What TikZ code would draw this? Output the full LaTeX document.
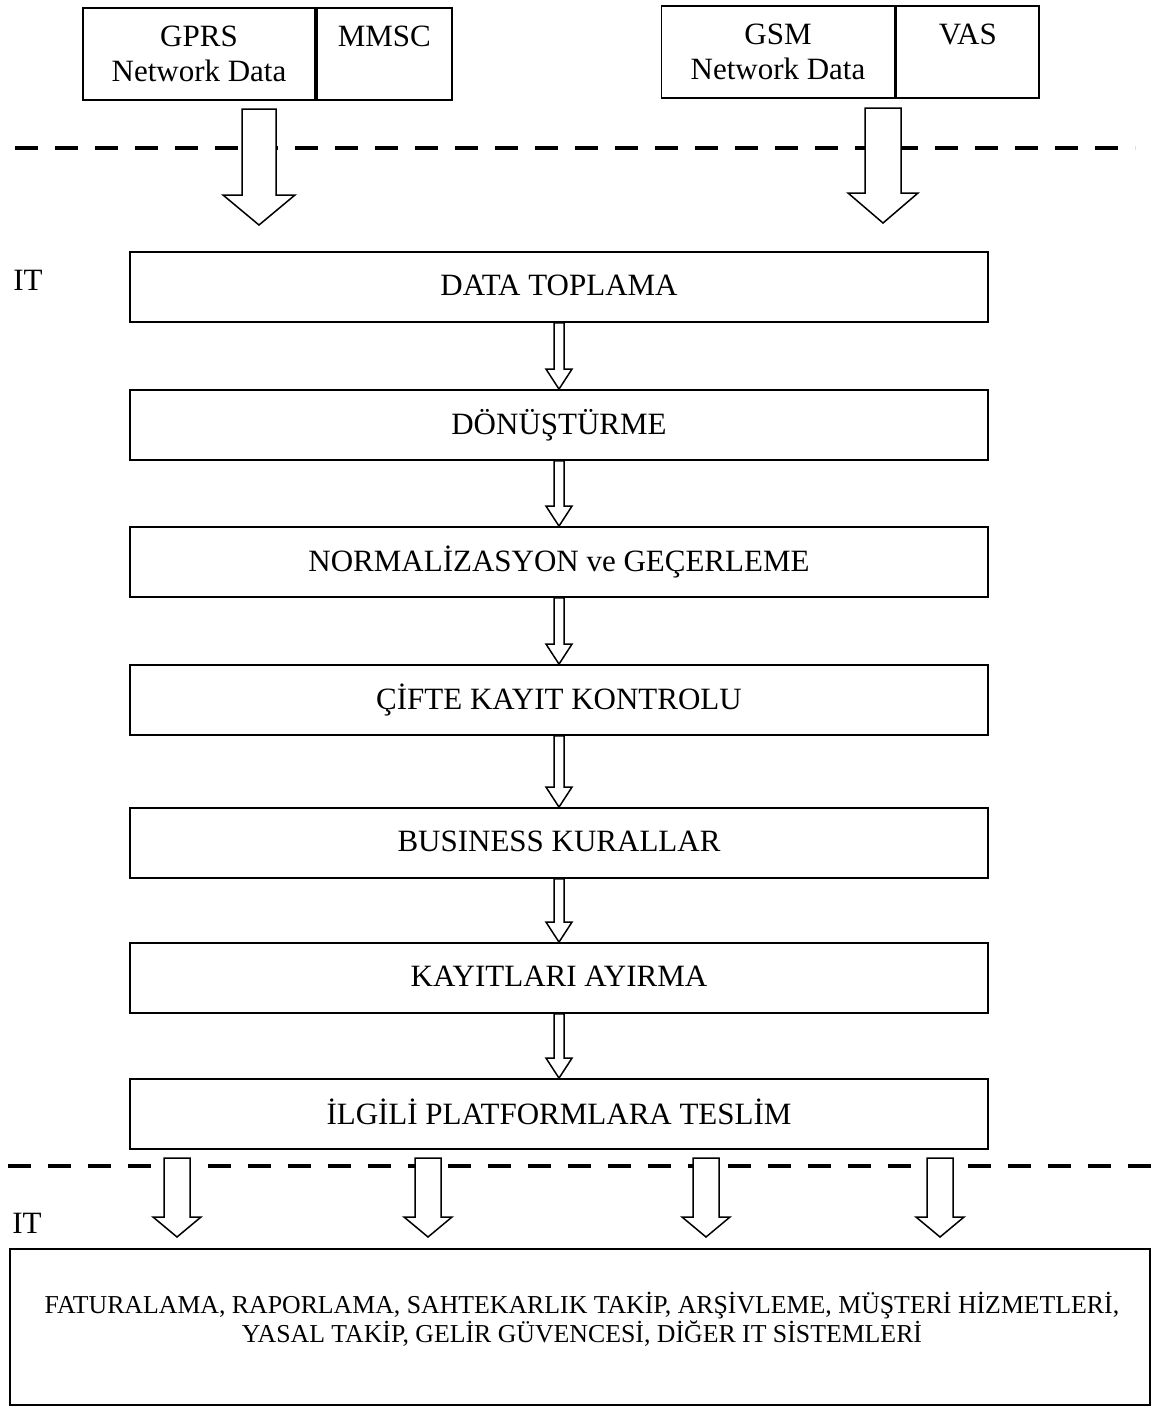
\documentclass[tikz,border=0pt]{standalone}
\usepackage{fontspec}
\setmainfont{Liberation Serif}
\usetikzlibrary{calc,positioning}

\tikzset{
    stage/.style={draw, line width=0.9pt, minimum width=429pt, minimum height=35pt,
        inner sep=0pt, font=\fontsize{15.5}{17.5}\selectfont},
    source/.style={draw, line width=0.9pt, minimum height=46pt, inner sep=0pt,
        align=center, font=\fontsize{15.5}{17.5}\selectfont},
    tag/.style={font=\fontsize{15.5}{17.5}\selectfont},
    hollow/.style={draw, line width=0.75pt, fill=white, line join=miter},
    border/.style={line width=2pt, dash pattern=on 11.5pt off 8.5pt},
}

% hollow block arrow: from, to, half shaft, half head, head length
\newcommand{\blockarrow}[5]{%
    \draw[hollow] let \p1=(#1), \p2=(#2) in
        (\x1-#3,\y1) -- (\x1-#3,\y2+#5) -- (\x1-#4,\y2+#5) -- (\x1,\y2)
        -- (\x1+#4,\y2+#5) -- (\x1+#3,\y2+#5) -- (\x1+#3,\y1) -- cycle;}

\begin{document}
\begin{tikzpicture}[x=0.5pt,y=-0.5pt]
        \useasboundingbox (0,0) rectangle (1160,1408);

        % network side
        \node[source, minimum width=116pt] (gprs) at (199,54) {GPRS\\Network Data};
        \node[source, minimum width=67.5pt, right=0pt of gprs] (mmsc) {MMSC\\\mbox{}};
        \node[source, minimum width=116.5pt] (gsm) at (778,52) {GSM\\Network Data};
        \node[source, minimum width=71.5pt, right=0pt of gsm] (vas) {VAS\\\mbox{}};

        % boundaries
        \coordinate (topw) at (15,148);
        \coordinate (tope) at (1135,148);
        \coordinate (botw) at (8,1166);
        \coordinate (bote) at (1155,1166);
        \draw[border] (topw) -- (tope);
        \draw[border] (botw) -- (bote);

        \node[tag] (ittop) at (28,280) {IT};
        \node[tag] (itbot) at (27,1223) {IT};

        % feeds into IT
        \coordinate (gprsout) at (259,109);
        \coordinate (gprsin) at (259,225);
        \coordinate (gsmout) at (883,108);
        \coordinate (gsmin) at (883,223);
        \blockarrow{gprsout}{gprsin}{8.5pt}{18pt}{15pt}
        \blockarrow{gsmout}{gsmin}{9pt}{17.5pt}{15pt}

        % processing chain
        \foreach \y/\txt [count=\i] in {287/DATA TOPLAMA, 425/DÖNÜŞTÜRME,
                562/NORMALİZASYON ve GEÇERLEME, 700/ÇİFTE KAYIT KONTROLU,
                843/BUSINESS KURALLAR, 978/KAYITLARI AYIRMA,
                1114/İLGİLİ PLATFORMLARA TESLİM}{
            \node[stage] (s\i) at (559,\y) {\raisebox{2pt}{\txt}};
        };

        \foreach \i [evaluate=\i as \j using int(\i+1)] in {1,...,6}{
            \blockarrow{s\i.south}{s\j.north}{2.5pt}{6.5pt}{10pt}
        };

        % delivery to IT systems
        \node[draw, line width=0.9pt, minimum width=570pt, minimum height=78pt] (sink) at (580,1327) {};
        \node[align=center, font=\fontsize{12.9}{13.6}\selectfont] (sinktext) at (582,1319)
            {FATURALAMA, RAPORLAMA, SAHTEKARLIK TAKİP, ARŞİVLEME, MÜŞTERİ HİZMETLERİ,\\
             YASAL TAKİP, GELİR GÜVENCESİ, DİĞER IT SİSTEMLERİ};

        \foreach \x [count=\i] in {177,428,706,940}{
            \coordinate (out\i) at (\x,1158);
            \coordinate (in\i) at (\x,1237);
            \blockarrow{out\i}{in\i}{6.5pt}{12pt}{10pt}
        };

\end{tikzpicture}
\end{document}
